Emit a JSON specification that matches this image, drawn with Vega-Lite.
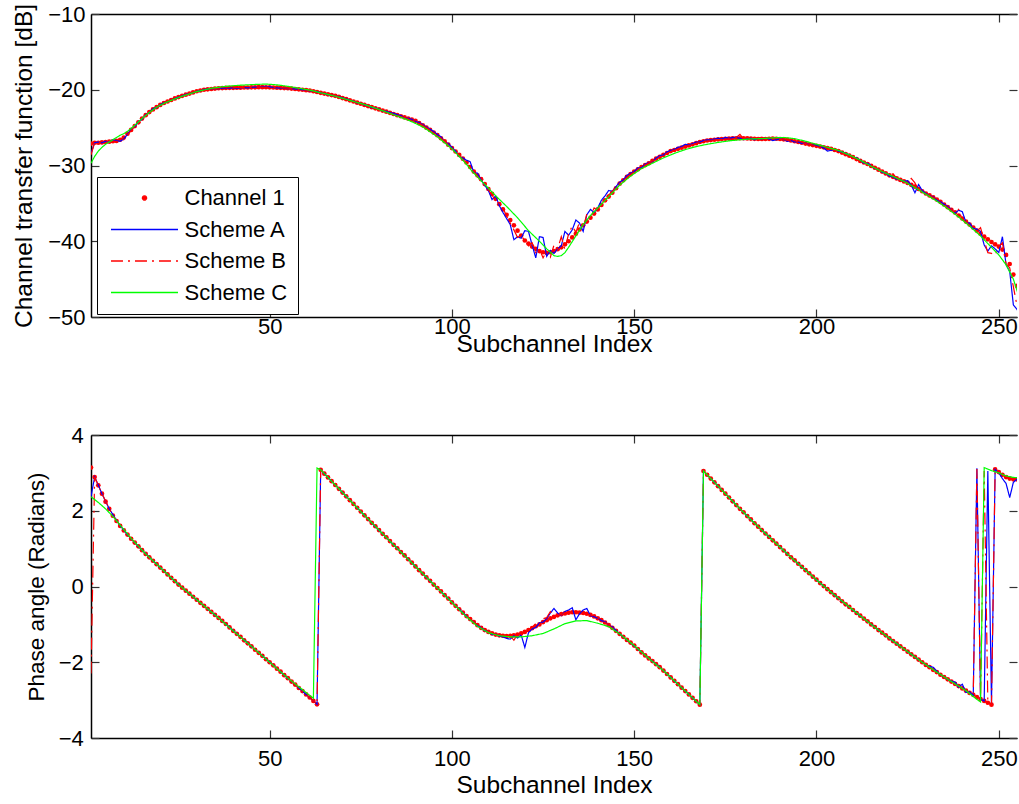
{
"$schema": "https://vega.github.io/schema/vega-lite/v6.json",
"background": "white",
"padding": {"left": 11, "top": 3, "right": 0, "bottom": 0},
"bounds": "flush",
"spacing": 118,
"resolve": {"scale": {"color": "independent", "strokeDash": "independent", "shape": "independent"}, "legend": {"color": "independent", "strokeDash": "independent", "shape": "independent"}},
"config": {
  "font": "Liberation Sans",
  "view": {"stroke": null},
  "axis": {
    "labelFont": "Liberation Sans", "titleFont": "Liberation Sans",
    "labelFontSize": 22, "titleFontSize": 24.5, "titleFontWeight": "normal",
    "labelColor": "#000000", "titleColor": "#000000",
    "grid": false, "domainColor": "#000000", "domainWidth": 1.5,
    "tickColor": "#333333", "tickWidth": 1.2, "tickSize": -8
  }
},
"datasets": {
"top": [
{"i":1,"m":-27.1,"a":-28.4,"b":-28.6,"c":-29.7},
{"i":2,"m":-27,"a":-27,"b":-27,"c":-28.8},
{"i":3,"m":-27,"a":-26.9,"c":-28.1},
{"i":4,"m":-26.95,"a":-27,"b":-26.9,"c":-27.6},
{"i":5,"m":-26.9,"a":-26.8,"c":-27.2},
{"i":6,"m":-26.85,"a":-26.9,"c":-26.9},
{"i":7,"m":-26.8,"a":-26.6,"b":-26.9,"c":-26.6},
{"i":8,"m":-26.75,"a":-26.7,"c":-26.3},
{"i":9,"m":-26.6,"a":-26.8,"c":-26},
{"i":10,"m":-26.3,"a":-26.5,"b":-26.6,"c":-25.8},
{"i":11,"m":-25.8,"a":-25.9,"c":-25.5},
{"i":12,"m":-25.3,"a":-25.2},
{"i":13,"m":-24.8,"a":-24.9,"b":-24.8,"c":-24.7},
{"i":14,"m":-24.3,"a":-24.2},
{"i":15,"m":-23.8,"a":-23.9,"c":-23.8},
{"i":16,"m":-23.35,"a":-23.3,"b":-23.4},
{"i":17,"m":-22.95,"a":-23,"c":-23},
{"i":18,"m":-22.6,"a":-22.5},
{"i":19,"m":-22.3,"a":-22.35,"b":-22.3,"c":-22.3},
{"i":20,"m":-22,"a":-22},
{"i":21,"m":-21.75,"a":-21.7,"c":-21.8},
{"i":22,"m":-21.55,"a":-21.6,"b":-21.5},
{"i":23,"m":-21.35,"a":-21.3},
{"i":24,"m":-21.15,"a":-21.2,"c":-21.2},
{"i":25,"m":-20.97,"a":-20.95,"b":-21},
{"i":26,"m":-20.8,"a":-20.85},
{"i":27,"m":-20.65,"a":-20.6,"c":-20.7},
{"i":28,"m":-20.5,"a":-20.5,"b":-20.5},
{"i":29,"m":-20.35,"a":-20.4},
{"i":30,"m":-20.2,"a":-20.2,"c":-20.25},
{"i":31,"m":-20.1,"a":-20.15,"b":-20.1},
{"i":32,"m":-20,"a":-19.95},
{"i":33,"m":-19.95,"a":-19.95},
{"i":34,"m":-19.9,"a":-19.9,"b":-19.9,"c":-19.8},
{"i":35,"m":-19.85,"a":-19.85},
{"i":36,"m":-19.8,"a":-19.85},
{"i":37,"m":-19.78,"a":-19.8,"b":-19.75},
{"i":38,"m":-19.76,"a":-19.8,"c":-19.55},
{"i":39,"m":-19.75,"a":-19.8},
{"i":40,"m":-19.74,"a":-19.75,"b":-19.7},
{"i":41,"m":-19.72,"a":-19.8},
{"i":42,"m":-19.72,"a":-19.75,"c":-19.4},
{"i":43,"m":-19.7,"a":-19.7,"b":-19.7},
{"i":44,"m":-19.7,"a":-19.75},
{"i":45,"m":-19.68,"a":-19.7},
{"i":46,"m":-19.68,"a":-19.65,"b":-19.7,"c":-19.3},
{"i":47,"m":-19.66,"a":-19.7},
{"i":48,"m":-19.66,"a":-19.6},
{"i":49,"m":-19.67,"a":-19.55,"b":-19.65,"c":-19.25},
{"i":50,"m":-19.68,"a":-19.6},
{"i":51,"m":-19.7,"a":-19.7},
{"i":52,"m":-19.72,"a":-19.75,"b":-19.7,"c":-19.35},
{"i":53,"m":-19.75,"a":-19.8},
{"i":54,"m":-19.78,"a":-19.8},
{"i":55,"m":-19.8,"a":-19.85,"b":-19.8,"c":-19.55},
{"i":56,"m":-19.85,"a":-19.85},
{"i":57,"m":-19.9,"a":-19.9},
{"i":58,"m":-19.95,"a":-19.95,"b":-19.95,"c":-19.8},
{"i":59,"m":-20,"a":-20},
{"i":60,"m":-20.05,"a":-20.05},
{"i":61,"m":-20.1,"a":-20.15,"b":-20.1,"c":-20.05},
{"i":62,"m":-20.2,"a":-20.2},
{"i":63,"m":-20.3,"a":-20.25},
{"i":64,"m":-20.4,"a":-20.4,"b":-20.4,"c":-20.4},
{"i":65,"m":-20.5,"a":-20.5},
{"i":66,"m":-20.6,"a":-20.65},
{"i":67,"m":-20.7,"a":-20.7,"b":-20.7},
{"i":68,"m":-20.8,"a":-20.85,"c":-20.85},
{"i":69,"m":-20.95,"a":-20.9},
{"i":70,"m":-21.1,"a":-21.1,"b":-21.1},
{"i":71,"m":-21.25,"a":-21.2},
{"i":72,"m":-21.4,"a":-21.4,"c":-21.4},
{"i":73,"m":-21.55,"a":-21.5,"b":-21.55},
{"i":74,"m":-21.7,"a":-21.75},
{"i":75,"m":-21.85,"a":-21.8},
{"i":76,"m":-22,"a":-22,"b":-22,"c":-21.95},
{"i":77,"m":-22.15,"a":-22.1},
{"i":78,"m":-22.3,"a":-22.35},
{"i":79,"m":-22.45,"a":-22.4,"b":-22.45},
{"i":80,"m":-22.6,"a":-22.55,"c":-22.6},
{"i":81,"m":-22.75,"a":-22.8},
{"i":82,"m":-22.9,"a":-22.85,"b":-22.9},
{"i":83,"m":-23.05,"a":-23},
{"i":84,"m":-23.2,"a":-23.1,"c":-23.3},
{"i":85,"m":-23.35,"a":-23.3,"b":-23.4},
{"i":86,"m":-23.5,"a":-23.4},
{"i":87,"m":-23.65,"a":-23.7},
{"i":88,"m":-23.8,"a":-23.75,"b":-23.8,"c":-24},
{"i":89,"m":-23.95,"a":-23.9},
{"i":90,"m":-24.1,"a":-24.2},
{"i":91,"m":-24.4,"a":-24.3,"b":-24.4},
{"i":92,"m":-24.7,"a":-24.6,"c":-24.9},
{"i":93,"m":-25,"a":-24.9},
{"i":94,"m":-25.3,"a":-25.2,"b":-25.3},
{"i":95,"m":-25.65,"a":-25.5},
{"i":96,"m":-26,"a":-25.9,"c":-26.2},
{"i":97,"m":-26.4,"a":-26.2,"b":-26.4},
{"i":98,"m":-26.8,"a":-26.9},
{"i":99,"m":-27.25,"a":-27.1},
{"i":100,"m":-27.7,"a":-27.6,"b":-27.7,"c":-27.8},
{"i":101,"m":-28.15,"a":-28.1,"b":-28.2},
{"i":102,"m":-28.6,"a":-28.8,"b":-28.6},
{"i":103,"m":-29.1,"a":-29,"b":-29.3,"c":-29.3},
{"i":104,"m":-29.6,"a":-29.3,"b":-29.5},
{"i":105,"m":-30.2,"a":-29.5,"b":-30.3},
{"i":106,"m":-30.8,"a":-30.9,"b":-30.7,"c":-31},
{"i":107,"m":-31.3,"a":-31,"b":-31.5},
{"i":108,"m":-31.8,"a":-31.9,"b":-31.9},
{"i":109,"m":-32.45,"a":-32.6,"b":-32.4,"c":-32.5},
{"i":110,"m":-33.1,"a":-33.3,"b":-33.2},
{"i":111,"m":-33.75,"a":-34.5,"b":-33.9},
{"i":112,"m":-34.4,"a":-34,"b":-34.7,"c":-34},
{"i":113,"m":-35.1,"a":-35.3,"b":-35},
{"i":114,"m":-35.8,"a":-36.2,"b":-35.6},
{"i":115,"m":-36.5,"a":-37,"b":-36.7,"c":-35.4},
{"i":116,"m":-37.2,"a":-37.8,"b":-37.6},
{"i":117,"m":-37.9,"a":-39.8,"b":-38.5},
{"i":118,"m":-38.6,"a":-39.4,"b":-39.5,"c":-36.9},
{"i":119,"m":-39.25,"a":-39.6,"b":-39.2},
{"i":120,"m":-39.9,"a":-38.6,"b":-40},
{"i":121,"m":-40.3,"a":-38.7,"b":-40.6,"c":-38.6},
{"i":122,"m":-40.7,"a":-40.5,"b":-40.2},
{"i":123,"m":-41,"a":-42.2,"b":-41.5},
{"i":124,"m":-41.3,"a":-39.4,"b":-41,"c":-40},
{"i":125,"m":-41.45,"a":-39.5,"b":-42.2},
{"i":126,"m":-41.55,"a":-42,"b":-41.3,"c":-41},
{"i":127,"m":-41.45,"a":-41.2,"b":-42.1},
{"i":128,"m":-41.3,"a":-41.6,"b":-40.5,"c":-41.9},
{"i":129,"m":-41.05,"a":-41,"b":-41,"c":-42},
{"i":130,"m":-40.8,"a":-40.6,"b":-39.4,"c":-41.9},
{"i":131,"m":-40.4,"a":-38.7,"b":-41.1,"c":-41.5},
{"i":132,"m":-40,"a":-39.2,"b":-39,"c":-40.8},
{"i":133,"m":-39.5,"a":-38.5,"b":-38},
{"i":134,"m":-39,"a":-37.2,"b":-38.8,"c":-39.3},
{"i":135,"m":-38.45,"a":-37.6,"b":-37.5},
{"i":136,"m":-37.9,"a":-38.7,"b":-38.3,"c":-37.8},
{"i":137,"m":-37.4,"a":-36.5,"b":-36.4},
{"i":138,"m":-36.9,"a":-35.8,"b":-36.8,"c":-36.6},
{"i":139,"m":-36.35,"a":-36.2,"b":-35.6},
{"i":140,"m":-35.8,"a":-35.6,"b":-35.9,"c":-35.6},
{"i":141,"m":-35.2,"a":-34.6,"b":-34.9},
{"i":142,"m":-34.6,"a":-34,"b":-34.4},
{"i":143,"m":-34.1,"a":-33.3,"b":-33.9,"c":-34.1},
{"i":144,"m":-33.6,"a":-33.4,"b":-33.4},
{"i":145,"m":-33,"a":-32.8,"b":-32.9},
{"i":146,"m":-32.4,"a":-32.2,"b":-32.4,"c":-32.6},
{"i":147,"m":-31.95,"a":-31.9},
{"i":148,"m":-31.5,"a":-31.3},
{"i":149,"m":-31.15,"a":-31,"b":-31.2,"c":-31.4},
{"i":150,"m":-30.8,"a":-30.8},
{"i":151,"m":-30.5,"a":-30.3},
{"i":152,"m":-30.2,"a":-30.3,"b":-30.2,"c":-30.4},
{"i":153,"m":-29.95,"a":-29.8},
{"i":154,"m":-29.7,"a":-29.6},
{"i":155,"m":-29.4,"a":-29.5,"b":-29.4,"c":-29.7},
{"i":156,"m":-29.1,"a":-29},
{"i":157,"m":-28.85,"a":-28.7},
{"i":158,"m":-28.6,"a":-28.6,"b":-28.6,"c":-29},
{"i":159,"m":-28.35,"a":-28.2},
{"i":160,"m":-28.1,"a":-28},
{"i":161,"m":-27.95,"a":-27.9,"b":-28,"c":-28.4},
{"i":162,"m":-27.8,"a":-27.6},
{"i":163,"m":-27.65,"a":-27.5},
{"i":164,"m":-27.5,"a":-27.2,"b":-27.5,"c":-27.9},
{"i":165,"m":-27.35,"a":-27.3},
{"i":166,"m":-27.2,"a":-27.1},
{"i":167,"m":-27.05,"a":-26.9,"b":-27.1,"c":-27.5},
{"i":168,"m":-26.9,"a":-26.9},
{"i":169,"m":-26.8,"a":-26.7},
{"i":170,"m":-26.7,"a":-26.6,"b":-26.7,"c":-27.2},
{"i":171,"m":-26.65,"a":-26.6},
{"i":172,"m":-26.6,"a":-26.5},
{"i":173,"m":-26.55,"a":-26.4,"b":-26.6,"c":-26.95},
{"i":174,"m":-26.5,"a":-26.5},
{"i":175,"m":-26.47,"a":-26.3},
{"i":176,"m":-26.45,"a":-26.4,"b":-26.45,"c":-26.75},
{"i":177,"m":-26.42,"a":-26.3},
{"i":178,"m":-26.4,"a":-26.3,"b":-26.3},
{"i":179,"m":-26.4,"a":-26.4,"b":-25.9,"c":-26.6},
{"i":180,"m":-26.4,"a":-26.6,"b":-26.5},
{"i":181,"m":-26.42,"a":-26.5},
{"i":182,"m":-26.45,"a":-26.4,"b":-26.45,"c":-26.5},
{"i":183,"m":-26.48,"a":-26.6},
{"i":184,"m":-26.5,"a":-26.4},
{"i":185,"m":-26.5,"a":-26.5,"b":-26.3,"c":-26.45},
{"i":186,"m":-26.5,"a":-26.4},
{"i":187,"m":-26.48,"a":-26.5},
{"i":188,"m":-26.45,"a":-26.7,"b":-26.5,"c":-26.35},
{"i":189,"m":-26.47,"a":-26.6},
{"i":190,"m":-26.5,"a":-26.5},
{"i":191,"m":-26.55,"a":-26.6,"b":-26.6,"c":-26.3},
{"i":192,"m":-26.6,"a":-26.8},
{"i":193,"m":-26.7,"a":-26.7},
{"i":194,"m":-26.8,"a":-26.9,"b":-26.8,"c":-26.45},
{"i":195,"m":-26.9,"a":-26.9},
{"i":196,"m":-27,"a":-27.1},
{"i":197,"m":-27.1,"a":-27.05,"b":-27.1,"c":-26.8},
{"i":198,"m":-27.2,"a":-27.2},
{"i":199,"m":-27.3,"a":-27.25},
{"i":200,"m":-27.4,"a":-27.3,"b":-27.4,"c":-27.2},
{"i":201,"m":-27.5,"a":-27.5},
{"i":202,"m":-27.6,"a":-27.7},
{"i":203,"m":-27.7,"a":-28.1,"b":-27.7,"c":-27.6},
{"i":204,"m":-27.8,"a":-28},
{"i":205,"m":-27.95,"a":-27.9},
{"i":206,"m":-28.1,"a":-28.1,"b":-28.1,"c":-28},
{"i":207,"m":-28.3,"a":-28.2},
{"i":208,"m":-28.5,"a":-28.4},
{"i":209,"m":-28.7,"a":-28.6,"b":-28.7,"c":-28.6},
{"i":210,"m":-28.9,"a":-28.9},
{"i":211,"m":-29.15,"a":-29},
{"i":212,"m":-29.4,"a":-29.3,"b":-29.4,"c":-29.3},
{"i":213,"m":-29.6,"a":-29.7},
{"i":214,"m":-29.8,"a":-29.7},
{"i":215,"m":-30.05,"a":-30,"b":-30,"c":-30.1},
{"i":216,"m":-30.3,"a":-30.4},
{"i":217,"m":-30.55,"a":-30.5,"b":-30.5},
{"i":218,"m":-30.8,"a":-30.9,"b":-30.9,"c":-30.8},
{"i":219,"m":-31.05,"a":-31,"b":-31},
{"i":220,"m":-31.3,"a":-31.4,"b":-31.3},
{"i":221,"m":-31.5,"a":-31.5,"b":-31.1,"c":-31.45},
{"i":222,"m":-31.7,"a":-31.8,"b":-31.7},
{"i":223,"m":-31.9,"a":-31.9,"b":-32},
{"i":224,"m":-32.1,"a":-32.1,"b":-32.1,"c":-32.1},
{"i":225,"m":-32.3,"a":-32,"b":-32.3},
{"i":226,"m":-32.55,"a":-32.6,"b":-31.7},
{"i":227,"m":-32.8,"a":-33.6,"b":-32.3,"c":-32.9},
{"i":228,"m":-33.1,"a":-32.5,"b":-33.4},
{"i":229,"m":-33.4,"a":-33.3,"b":-33.2},
{"i":230,"m":-33.7,"a":-33.7,"b":-33.8,"c":-33.8},
{"i":231,"m":-33.95,"a":-34,"b":-34},
{"i":232,"m":-34.2,"a":-34.1,"b":-34.2},
{"i":233,"m":-34.5,"a":-34.6,"b":-34.5,"c":-34.7},
{"i":234,"m":-34.8,"a":-34.8,"b":-34.9},
{"i":235,"m":-35.15,"a":-35.1,"b":-35.1},
{"i":236,"m":-35.5,"a":-35.4,"b":-35.6,"c":-35.7},
{"i":237,"m":-35.85,"a":-35.8,"b":-35.8},
{"i":238,"m":-36.2,"a":-36.3,"b":-36.3},
{"i":239,"m":-36.6,"a":-35.9,"b":-35.8,"c":-36.8},
{"i":240,"m":-37,"a":-36.1,"b":-37.2},
{"i":241,"m":-37.4,"a":-37.5,"b":-37.4},
{"i":242,"m":-37.8,"a":-37.6,"b":-37.8,"c":-38},
{"i":243,"m":-38.2,"a":-38.3,"b":-38.1},
{"i":244,"m":-38.6,"a":-38.4,"b":-38.7},
{"i":245,"m":-39,"a":-38.7,"b":-38.2,"c":-39.3},
{"i":246,"m":-39.4,"a":-40.5,"b":-39.9},
{"i":247,"m":-39.75,"a":-41.3,"b":-41.5},
{"i":248,"m":-40.1,"a":-40.6,"b":-41.6,"c":-40.8},
{"i":249,"m":-40.4,"a":-41,"b":-41.8},
{"i":250,"m":-40.7,"a":-41.5,"b":-40.7,"c":-41.8},
{"i":251,"m":-41.1,"a":-39.4,"b":-40.2},
{"i":252,"m":-41.8,"a":-43.1,"b":-43,"c":-43.1},
{"i":253,"m":-43,"a":-44,"b":-43.5},
{"i":254,"m":-44.4,"a":-48.4,"b":-46,"c":-45},
{"i":255,"m":-45.9,"a":-49,"b":-48.5},
{"i":256,"m":-49.7,"a":-49.9,"b":-49.8,"c":-48}
],
"bot": [
{"i":1,"m":3.14,"a":2.37,"b":-2.3,"c":2.37},
{"i":2,"m":2.89,"a":2.89,"b":2.89},
{"i":3,"m":2.67,"a":2.68,"c":2.22},
{"i":4,"m":2.45,"a":2.45,"b":2.45},
{"i":5,"m":2.24,"c":2.05},
{"i":6,"m":2.05,"a":2.05},
{"i":7,"m":1.87,"b":1.87,"c":1.85},
{"i":8,"m":1.73},
{"i":9,"m":1.6,"a":1.6,"c":1.62},
{"i":10,"m":1.48,"b":1.48},
{"i":11,"m":1.37},
{"i":12,"m":1.26,"a":1.26,"c":1.27},
{"i":13,"m":1.16,"b":1.16},
{"i":14,"m":1.06},
{"i":15,"m":0.96,"a":0.96},
{"i":16,"m":0.86,"b":0.86,"c":0.86},
{"i":17,"m":0.77},
{"i":18,"m":0.68,"a":0.68},
{"i":19,"m":0.59,"b":0.59},
{"i":20,"m":0.5,"c":0.5},
{"i":21,"m":0.41,"a":0.41},
{"i":22,"m":0.32,"b":0.32},
{"i":23,"m":0.23},
{"i":24,"m":0.14,"a":0.14},
{"i":25,"m":0.05,"b":0.05,"c":0.05},
{"i":26,"m":-0.03},
{"i":27,"m":-0.11,"a":-0.11},
{"i":28,"m":-0.19,"b":-0.19},
{"i":29,"m":-0.27},
{"i":30,"m":-0.35,"a":-0.35,"c":-0.35},
{"i":31,"m":-0.43,"b":-0.43},
{"i":32,"m":-0.51},
{"i":33,"m":-0.59,"a":-0.59},
{"i":34,"m":-0.67,"b":-0.67},
{"i":35,"m":-0.75,"c":-0.75},
{"i":36,"m":-0.83,"a":-0.83},
{"i":37,"m":-0.91,"b":-0.91},
{"i":38,"m":-0.99},
{"i":39,"m":-1.08,"a":-1.08},
{"i":40,"m":-1.17,"b":-1.17,"c":-1.17},
{"i":41,"m":-1.25},
{"i":42,"m":-1.33,"a":-1.33},
{"i":43,"m":-1.42,"b":-1.42},
{"i":44,"m":-1.5},
{"i":45,"m":-1.58,"a":-1.58,"c":-1.58},
{"i":46,"m":-1.67,"b":-1.67},
{"i":47,"m":-1.75},
{"i":48,"m":-1.83,"a":-1.83},
{"i":49,"m":-1.92,"b":-1.92},
{"i":50,"m":-2,"c":-2},
{"i":51,"m":-2.08,"a":-2.08},
{"i":52,"m":-2.17,"b":-2.17},
{"i":53,"m":-2.25},
{"i":54,"m":-2.34,"a":-2.34},
{"i":55,"m":-2.42,"b":-2.42,"c":-2.42},
{"i":56,"m":-2.51},
{"i":57,"m":-2.59,"a":-2.59},
{"i":58,"m":-2.68,"b":-2.68},
{"i":59,"m":-2.76},
{"i":60,"m":-2.85,"a":-2.85,"c":-2.8},
{"i":61,"m":-2.93,"b":-2.93},
{"i":62,"m":-3.02,"a":-3.02,"c":-2.95},
{"i":63,"m":-3.11,"a":-3.11,"b":-3.11,"c":3.13},
{"i":64,"m":3.08,"a":3.08,"b":3.08,"c":3.08},
{"i":65,"m":2.98},
{"i":66,"m":2.88,"a":2.88},
{"i":67,"m":2.78,"b":2.78},
{"i":68,"m":2.68,"c":2.68},
{"i":69,"m":2.58,"a":2.58},
{"i":70,"m":2.48,"b":2.48},
{"i":71,"m":2.38},
{"i":72,"m":2.28,"a":2.28,"c":2.28},
{"i":73,"m":2.18,"b":2.18},
{"i":74,"m":2.08},
{"i":75,"m":1.98,"a":1.98},
{"i":76,"m":1.88,"b":1.88,"c":1.88},
{"i":77,"m":1.78},
{"i":78,"m":1.68,"a":1.68},
{"i":79,"m":1.59,"b":1.59},
{"i":80,"m":1.49,"c":1.49},
{"i":81,"m":1.39,"a":1.39},
{"i":82,"m":1.3,"b":1.3},
{"i":83,"m":1.2},
{"i":84,"m":1.1,"a":1.1,"c":1.1},
{"i":85,"m":1.01,"b":1.01},
{"i":86,"m":0.91},
{"i":87,"m":0.82,"a":0.82},
{"i":88,"m":0.72,"b":0.72,"c":0.72},
{"i":89,"m":0.63},
{"i":90,"m":0.53,"a":0.53},
{"i":91,"m":0.43,"b":0.43},
{"i":92,"m":0.34,"c":0.34},
{"i":93,"m":0.24,"a":0.24},
{"i":94,"m":0.15,"b":0.15},
{"i":95,"m":0.05},
{"i":96,"m":-0.04,"a":-0.04,"c":-0.04},
{"i":97,"m":-0.13,"b":-0.13},
{"i":98,"m":-0.23},
{"i":99,"m":-0.32,"a":-0.32},
{"i":100,"m":-0.42,"b":-0.42,"c":-0.42},
{"i":101,"m":-0.51},
{"i":102,"m":-0.6,"a":-0.6},
{"i":103,"m":-0.69,"b":-0.69},
{"i":104,"m":-0.78,"c":-0.8},
{"i":105,"m":-0.86,"a":-0.88},
{"i":106,"m":-0.94,"a":-0.93,"b":-0.94},
{"i":107,"m":-1.02,"a":-1.04,"c":-1.05},
{"i":108,"m":-1.09,"a":-1.08},
{"i":109,"m":-1.15,"a":-1.17,"b":-1.15},
{"i":110,"m":-1.2,"a":-1.19,"c":-1.22},
{"i":111,"m":-1.24,"a":-1.27},
{"i":112,"m":-1.27,"a":-1.26,"b":-1.27},
{"i":113,"m":-1.29,"a":-1.31,"c":-1.3},
{"i":114,"m":-1.3,"a":-1.33,"b":-1.31},
{"i":115,"m":-1.31,"a":-1.37,"b":-1.3},
{"i":116,"m":-1.3,"a":-1.39,"b":-1.3,"c":-1.33},
{"i":117,"m":-1.29,"a":-1.3,"b":-1.42},
{"i":118,"m":-1.27,"a":-1.36,"b":-1.26},
{"i":119,"m":-1.24,"a":-1.28,"b":-1.28,"c":-1.33},
{"i":120,"m":-1.2,"a":-1.61,"b":-1.18},
{"i":121,"m":-1.15,"a":-1.22,"b":-1.17},
{"i":122,"m":-1.1,"a":-1.12,"b":-1.08,"c":-1.3},
{"i":123,"m":-1.05,"a":-1.08,"b":-0.98},
{"i":124,"m":-1,"a":-0.96,"b":-1.02},
{"i":125,"m":-0.94,"a":-0.94,"b":-0.85,"c":-1.24},
{"i":126,"m":-0.89,"a":-0.85,"b":-0.82},
{"i":127,"m":-0.84,"a":-0.7,"b":-0.66},
{"i":128,"m":-0.8,"a":-0.58,"b":-0.8,"c":-1.12},
{"i":129,"m":-0.76,"a":-0.7,"b":-0.7},
{"i":130,"m":-0.73,"a":-0.77,"b":-0.76},
{"i":131,"m":-0.71,"a":-0.66,"b":-0.69,"c":-0.98},
{"i":132,"m":-0.69,"a":-0.62,"b":-0.7},
{"i":133,"m":-0.68,"a":-0.56,"b":-0.66},
{"i":134,"m":-0.68,"a":-0.88,"b":-0.68,"c":-0.91},
{"i":135,"m":-0.69,"a":-0.72,"b":-0.69},
{"i":136,"m":-0.7,"a":-0.62,"b":-0.7},
{"i":137,"m":-0.72,"a":-0.58,"b":-0.72,"c":-0.9},
{"i":138,"m":-0.75,"a":-0.77,"b":-0.75},
{"i":139,"m":-0.79,"a":-0.8,"b":-0.79},
{"i":140,"m":-0.84,"a":-0.84,"b":-0.84,"c":-0.97},
{"i":141,"m":-0.89,"a":-0.9},
{"i":142,"m":-0.95,"a":-0.93,"b":-0.95},
{"i":143,"m":-1.02,"a":-1.03,"c":-1.06},
{"i":144,"m":-1.09,"a":-1.06},
{"i":145,"m":-1.17,"a":-1.16,"b":-1.17},
{"i":146,"m":-1.25,"a":-1.25,"c":-1.25},
{"i":147,"m":-1.33},
{"i":148,"m":-1.41,"a":-1.41,"b":-1.41},
{"i":149,"m":-1.48},
{"i":150,"m":-1.56,"c":-1.56},
{"i":151,"m":-1.65,"a":-1.65,"b":-1.65},
{"i":152,"m":-1.74},
{"i":153,"m":-1.82},
{"i":154,"m":-1.9,"a":-1.9,"b":-1.9,"c":-1.9},
{"i":155,"m":-1.97},
{"i":156,"m":-2.05},
{"i":157,"m":-2.13,"a":-2.13,"b":-2.13},
{"i":158,"m":-2.22,"c":-2.22},
{"i":159,"m":-2.31},
{"i":160,"m":-2.4,"a":-2.4,"b":-2.4},
{"i":161,"m":-2.49},
{"i":162,"m":-2.58,"c":-2.58},
{"i":163,"m":-2.67,"a":-2.67,"b":-2.67},
{"i":164,"m":-2.76},
{"i":165,"m":-2.85},
{"i":166,"m":-2.94,"a":-2.94,"b":-2.94,"c":-2.94},
{"i":167,"m":-3.03},
{"i":168,"m":-3.12,"a":-3.12,"b":-3.12,"c":-3.12},
{"i":169,"m":3.05,"a":3.05,"b":3.05,"c":3.05},
{"i":170,"m":2.95},
{"i":171,"m":2.85},
{"i":172,"m":2.75,"a":2.75,"b":2.75},
{"i":173,"m":2.65,"c":2.65},
{"i":174,"m":2.55},
{"i":175,"m":2.45,"a":2.45,"b":2.45},
{"i":176,"m":2.35},
{"i":177,"m":2.25,"c":2.25},
{"i":178,"m":2.15,"a":2.15,"b":2.15},
{"i":179,"m":2.05},
{"i":180,"m":1.96},
{"i":181,"m":1.86,"a":1.86,"b":1.86,"c":1.86},
{"i":182,"m":1.77},
{"i":183,"m":1.67},
{"i":184,"m":1.58,"a":1.58,"b":1.58},
{"i":185,"m":1.49,"c":1.49},
{"i":186,"m":1.4},
{"i":187,"m":1.31,"a":1.31,"b":1.31},
{"i":188,"m":1.22},
{"i":189,"m":1.13,"c":1.13},
{"i":190,"m":1.04,"a":1.04,"b":1.04},
{"i":191,"m":0.95},
{"i":192,"m":0.86},
{"i":193,"m":0.77,"a":0.77,"b":0.77,"c":0.77},
{"i":194,"m":0.69},
{"i":195,"m":0.6},
{"i":196,"m":0.52,"a":0.52,"b":0.52},
{"i":197,"m":0.43,"c":0.43},
{"i":198,"m":0.35},
{"i":199,"m":0.26,"a":0.26,"b":0.26},
{"i":200,"m":0.18},
{"i":201,"m":0.09,"c":0.09},
{"i":202,"m":0.01,"a":0.01,"b":0.01},
{"i":203,"m":-0.07},
{"i":204,"m":-0.15},
{"i":205,"m":-0.23,"a":-0.23,"b":-0.23,"c":-0.23},
{"i":206,"m":-0.31},
{"i":207,"m":-0.39},
{"i":208,"m":-0.47,"a":-0.47,"b":-0.47},
{"i":209,"m":-0.54,"c":-0.54},
{"i":210,"m":-0.62},
{"i":211,"m":-0.7,"a":-0.7,"b":-0.7},
{"i":212,"m":-0.77},
{"i":213,"m":-0.85,"c":-0.85},
{"i":214,"m":-0.92,"a":-0.92,"b":-0.92},
{"i":215,"m":-1},
{"i":216,"m":-1.07},
{"i":217,"m":-1.15,"a":-1.15,"b":-1.15,"c":-1.15},
{"i":218,"m":-1.22},
{"i":219,"m":-1.29},
{"i":220,"m":-1.37,"a":-1.37,"b":-1.37},
{"i":221,"m":-1.44,"c":-1.44},
{"i":222,"m":-1.51},
{"i":223,"m":-1.58,"a":-1.58,"b":-1.58},
{"i":224,"m":-1.65},
{"i":225,"m":-1.72,"c":-1.72},
{"i":226,"m":-1.79,"a":-1.79,"b":-1.79},
{"i":227,"m":-1.86},
{"i":228,"m":-1.93},
{"i":229,"m":-2,"a":-2,"b":-2,"c":-2},
{"i":230,"m":-2.07,"a":-2.07},
{"i":231,"m":-2.13,"a":-2.11},
{"i":232,"m":-2.2,"a":-2.13,"b":-2.2},
{"i":233,"m":-2.26,"a":-2.24,"c":-2.26},
{"i":234,"m":-2.33,"a":-2.33},
{"i":235,"m":-2.39,"a":-2.39,"b":-2.39},
{"i":236,"m":-2.45,"a":-2.45},
{"i":237,"m":-2.51,"a":-2.5,"c":-2.51},
{"i":238,"m":-2.57,"a":-2.52,"b":-2.57},
{"i":239,"m":-2.63,"a":-2.66},
{"i":240,"m":-2.69,"a":-2.58,"b":-2.69},
{"i":241,"m":-2.75,"a":-2.8,"b":-2.75,"c":-2.75},
{"i":242,"m":-2.81,"a":-2.78,"b":-2.81},
{"i":243,"m":-2.86,"a":-2.88,"b":-2.86},
{"i":244,"m":-2.92,"a":3.12,"b":3.1,"c":-2.98},
{"i":245,"m":-2.97,"a":-2.98,"b":-3,"c":-3.05},
{"i":246,"m":-3.02,"a":-3.02,"b":3.05,"c":3.14},
{"i":247,"m":-3.07,"a":3.05,"b":-3.07},
{"i":248,"m":-3.12,"a":-3.1,"b":-3.12,"c":3.06},
{"i":249,"m":3.09,"a":3.09,"b":3.09},
{"i":250,"m":3.02,"a":3,"b":3.02,"c":3},
{"i":251,"m":2.95,"a":2.85,"b":2.95},
{"i":252,"m":2.89,"a":2.72,"b":2.89,"c":2.92},
{"i":253,"m":2.85,"a":2.35,"b":2.85},
{"i":254,"m":2.83,"a":2.75,"b":2.83,"c":2.88},
{"i":255,"m":2.83,"a":2.83,"b":2.83},
{"i":256,"m":2.85,"a":2.92,"b":2.85,"c":2.87}
]
},
"vconcat": [
{
  "width": 926, "height": 303,
  "data": {"name": "top"},
  "resolve": {"axis": {"x": "independent", "y": "independent"}},
  "layer": [
    {
      "mark": {"type": "point", "filled": true, "size": 22, "opacity": 1, "clip": true, "color": "#ff0000"},
      "encoding": {
        "x": {"field": "i", "type": "quantitative", "scale": {"domain": [1, 255], "nice": false, "zero": false},
              "axis": {"orient": "bottom", "values": [50, 100, 150, 200, 250], "title": "Subchannel Index", "labelPadding": 7, "titleY": 15}},
        "y": {"field": "m", "type": "quantitative", "scale": {"domain": [-50, -10], "nice": false, "zero": false},
              "axis": {"orient": "left", "values": [-50, -40, -30, -20, -10], "title": "Channel transfer function [dB]", "labelPadding": 14, "titleX": -60, "titleBaseline": "alphabetic"}},
        "shape": {"datum": "m", "type": "nominal", "scale": {"domain": ["m", "a", "b", "c"], "range": ["circle", "M-15.8,0L15.8,0", "M-15.8,0L15.8,0", "M-15.8,0L15.8,0"]}}
      }
    },
    {
      "transform": [{"fold": ["a", "b", "c"], "as": ["s", "v"]}, {"filter": "isValid(datum.v)"}],
      "mark": {"type": "line", "strokeWidth": 1.2, "clip": true},
      "encoding": {
        "x": {"field": "i", "type": "quantitative", "scale": {"domain": [1, 255], "nice": false, "zero": false},
              "axis": {"orient": "top", "values": [50, 100, 150, 200, 250], "labels": false, "title": null}},
        "y": {"field": "v", "type": "quantitative", "scale": {"domain": [-50, -10], "nice": false, "zero": false},
              "axis": {"orient": "right", "values": [-50, -40, -30, -20, -10], "labels": false, "title": null, "domain": false}},
        "color": {"field": "s", "type": "nominal", "scale": {"domain": ["m", "a", "b", "c"], "range": ["#ff0000", "#0000ff", "#ff0000", "#00ff00"]},
          "legend": {
            "title": null, "orient": "none", "legendX": 6, "legendY": 163, "direction": "vertical",
            "strokeColor": "#000000", "fillColor": "#ffffff", "padding": 10, "cornerRadius": 0,
            "labelFont": "Liberation Sans", "labelFontSize": 22, "labelColor": "#000000", "labelLimit": 300,
            "labelExpr": "datum.label == 'm' ? 'Channel 1' : datum.label == 'a' ? 'Scheme A' : datum.label == 'b' ? 'Scheme B' : 'Scheme C'",
            "symbolSize": 18, "symbolStrokeWidth": 1.3, "symbolFillColor": "#ff0000", "symbolOpacity": 1,
            "symbolOffset": 26.5, "labelOffset": 29, "rowPadding": 9.5
          }},
        "strokeDash": {"field": "s", "type": "nominal", "scale": {"domain": ["m", "a", "b", "c"], "range": [[1, 0], [1, 0], [12, 5, 2, 5], [1, 0]]}}
      }
    }
  ]
},
{
  "width": 926, "height": 303,
  "data": {"name": "bot"},
  "resolve": {"axis": {"x": "independent", "y": "independent"}},
  "layer": [
    {
      "mark": {"type": "point", "filled": true, "size": 22, "opacity": 1, "clip": true, "color": "#ff0000"},
      "encoding": {
        "x": {"field": "i", "type": "quantitative", "scale": {"domain": [1, 255], "nice": false, "zero": false},
              "axis": {"orient": "bottom", "values": [50, 100, 150, 200, 250], "title": "Subchannel Index", "labelPadding": 18, "titleY": 35.6}},
        "y": {"field": "m", "type": "quantitative", "scale": {"domain": [-4, 4], "nice": false, "zero": false},
              "axis": {"orient": "left", "values": [-4, -2, 0, 2, 4], "title": "Phase angle (Radians)", "titleFontSize": 22.5, "labelPadding": 15.7, "titleX": -48, "titleBaseline": "alphabetic"}}
      }
    },
    {
      "transform": [{"fold": ["a", "b", "c"], "as": ["s", "v"]}, {"filter": "isValid(datum.v)"}],
      "mark": {"type": "line", "strokeWidth": 1.2, "clip": true},
      "encoding": {
        "x": {"field": "i", "type": "quantitative", "scale": {"domain": [1, 255], "nice": false, "zero": false},
              "axis": {"orient": "top", "values": [50, 100, 150, 200, 250], "labels": false, "title": null}},
        "y": {"field": "v", "type": "quantitative", "scale": {"domain": [-4, 4], "nice": false, "zero": false},
              "axis": {"orient": "right", "values": [-4, -2, 0, 2, 4], "labels": false, "title": null, "domain": false}},
        "color": {"field": "s", "type": "nominal", "scale": {"domain": ["a", "b", "c"], "range": ["#0000ff", "#ff0000", "#00ff00"]}, "legend": null},
        "strokeDash": {"field": "s", "type": "nominal", "scale": {"domain": ["a", "b", "c"], "range": [[1, 0], [12, 5, 2, 5], [1, 0]]}, "legend": null}
      }
    }
  ]
}
]
}
